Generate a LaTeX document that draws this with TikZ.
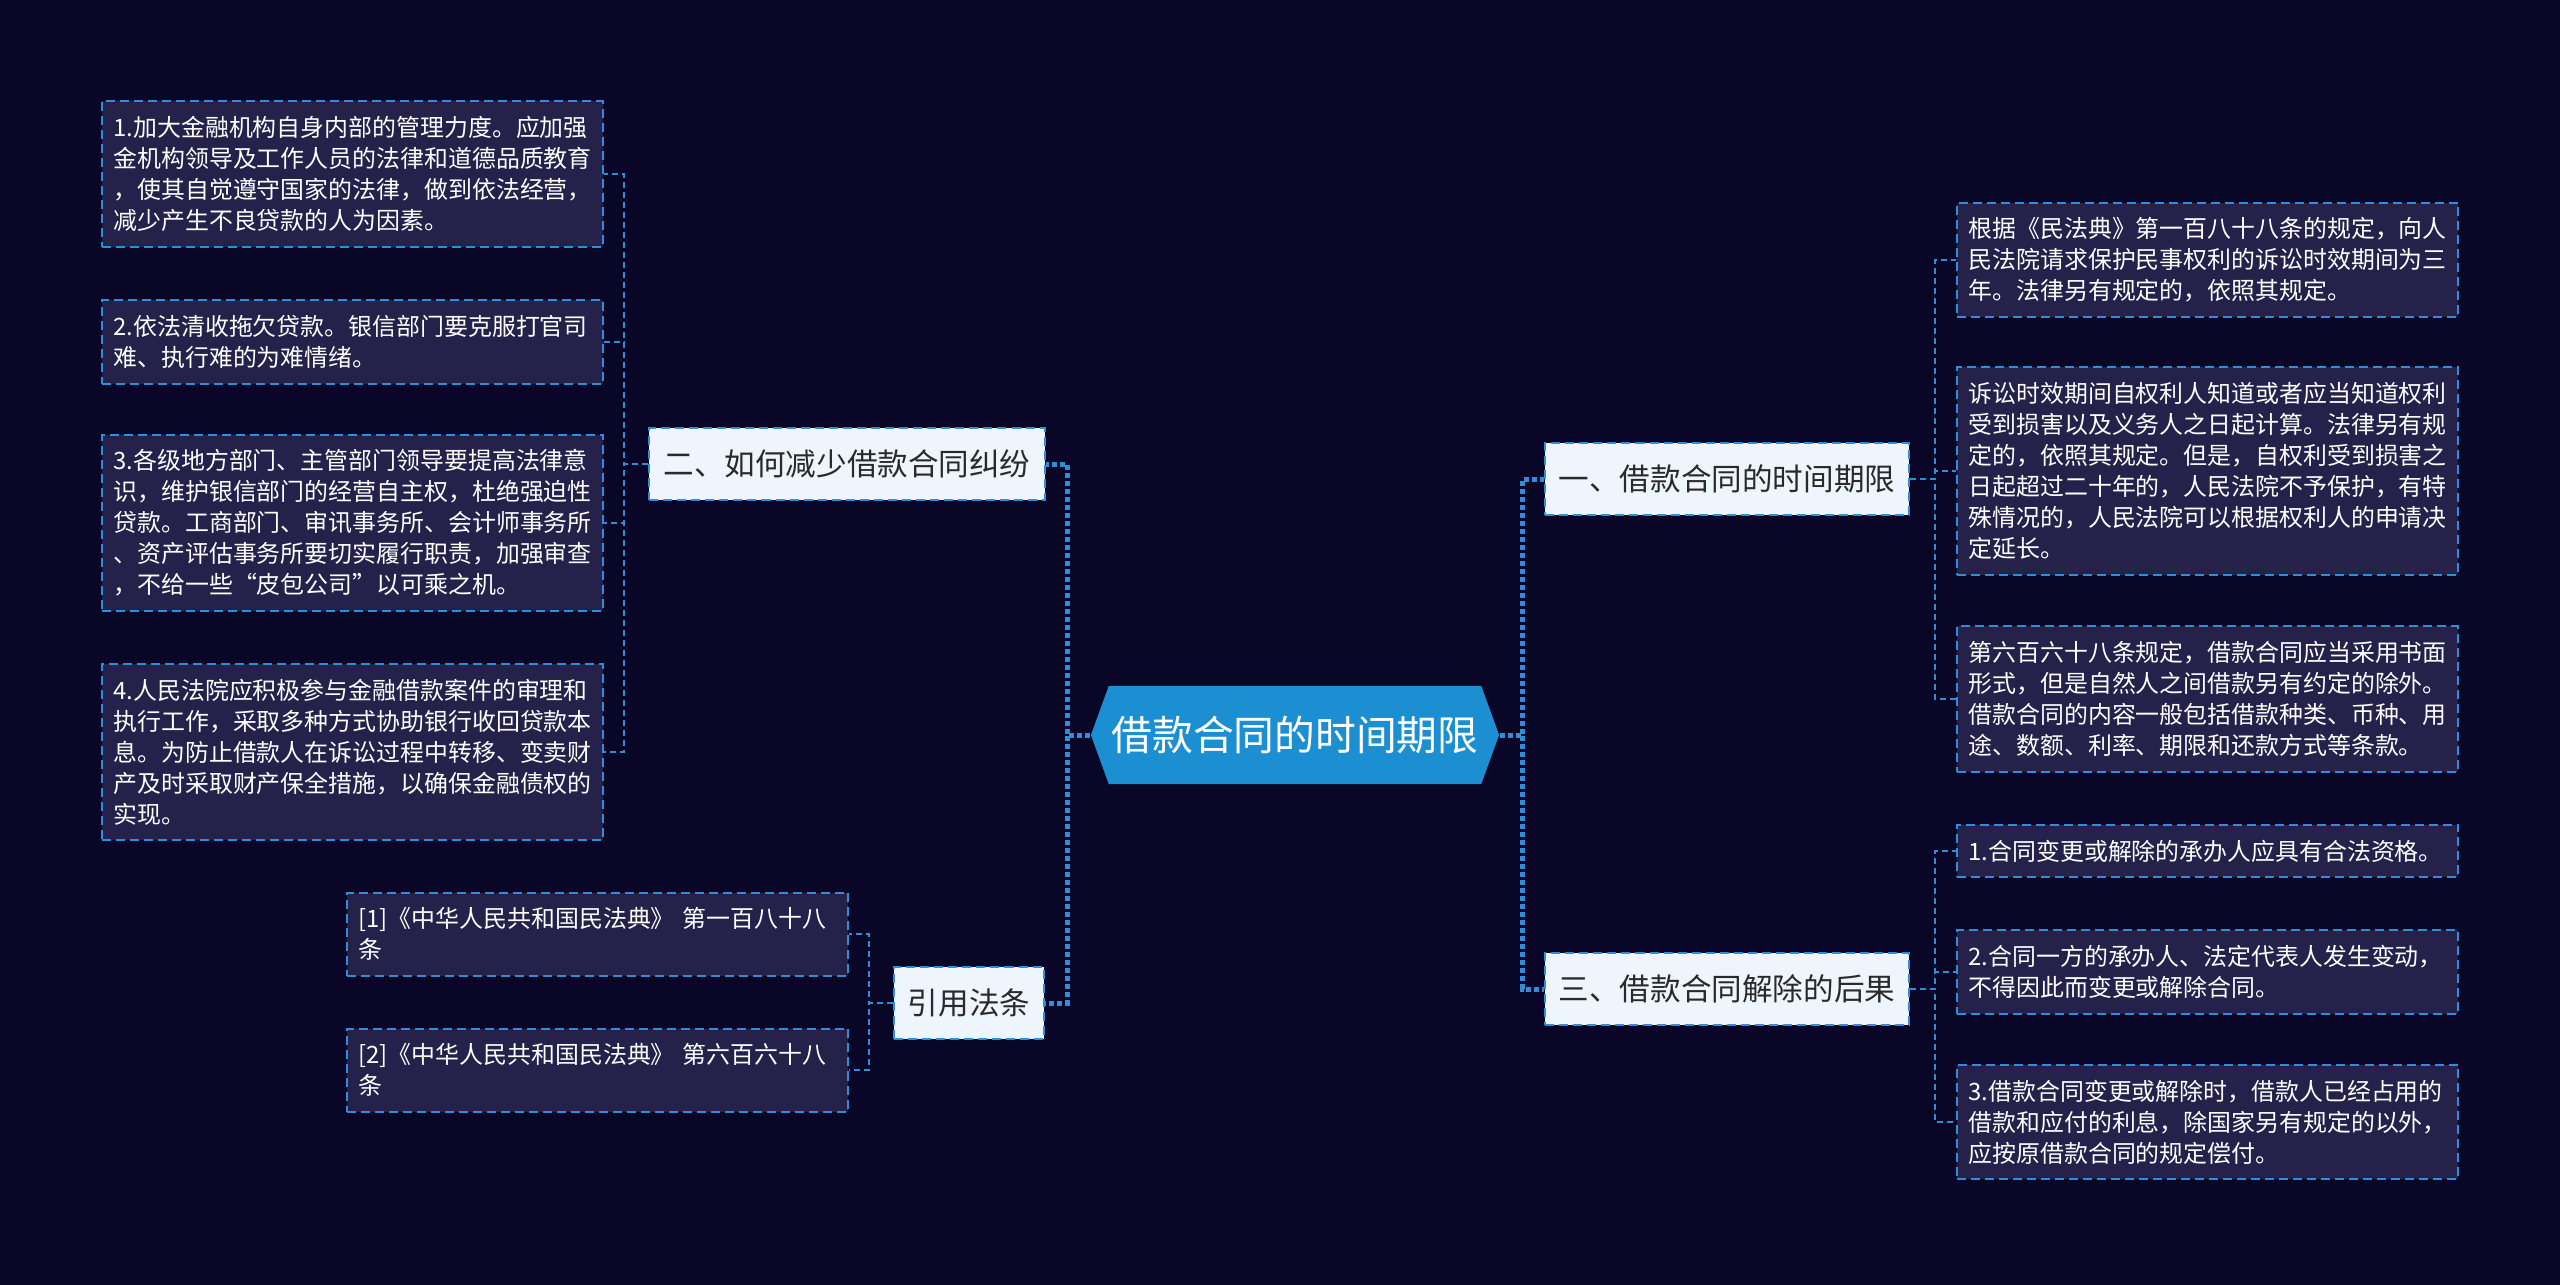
\documentclass[tikz,border=0pt]{standalone}
\usepackage{fontspec}
\setmainfont{Noto Sans CJK SC}
\usetikzlibrary{shapes.symbols}
\definecolor{bgnavy}{HTML}{0A0628}
\definecolor{leaffill}{HTML}{25214A}
\definecolor{linkblue}{HTML}{2E8FD8}
\definecolor{topicfill}{HTML}{EEF5FC}
\definecolor{rootfill}{HTML}{1C8FD3}
\definecolor{ink}{HTML}{2A2A2A}
\tikzset{
  root/.style={signal,signal to=west and east,signal pointer angle=140,fill=rootfill,draw=none,text=white,font=\fontsize{11.6}{14}\selectfont,minimum width=4.08cm,minimum height=0.98cm,inner sep=0pt},
  topic/.style={draw=linkblue,dash pattern=on 0.09cm off 0.05cm,line width=0.02cm,fill=topicfill,text=ink,font=\fontsize{8.7}{10}\selectfont,minimum height=0.71cm,inner xsep=0.14cm,inner ysep=0pt},
  leaf/.style={draw=linkblue,dash pattern=on 0.09cm off 0.05cm,line width=0.02cm,fill=leaffill,text=white,font=\fontsize{6.8}{8.8}\selectfont,text width=4.78cm,align=left,inner xsep=0.115cm,inner ysep=0.15cm,anchor=west},
  link/.style={draw=linkblue,line width=0.02cm,dash pattern=on 0.06cm off 0.04cm},
  trunk/.style={link,line width=0.05cm,dash pattern=on 0.05cm off 0.03cm},
}

\begin{document}
\begin{tikzpicture}[x=0.01cm,y=-0.01cm]
  \fill[bgnavy] (0,0) rectangle (2560,1285);
  \useasboundingbox (0,0) rectangle (2560,1285);

  \node[root] (root) at (1295,735) {借款合同的时间期限};
  \node[topic] (t2) at (847,464) {二、如何减少借款合同纠纷};
  \node[topic] (tref) at (969,1003) {引用法条};
  \node[topic] (t1) at (1727,479) {一、借款合同的时间期限};
  \node[topic] (t3) at (1727,989) {三、借款合同解除的后果};

  \node[leaf] (l1) at (101,174) {1.加大金融机构自身内部的管理力度。应加强\\金机构领导及工作人员的法律和道德品质教育\\，使其自觉遵守国家的法律，做到依法经营，\\减少产生不良贷款的人为因素。};
  \node[leaf] (l2) at (101,342) {2.依法清收拖欠贷款。银信部门要克服打官司\\难、执行难的为难情绪。};
  \node[leaf] (l3) at (101,523) {3.各级地方部门、主管部门领导要提高法律意\\识，维护银信部门的经营自主权，杜绝强迫性\\贷款。工商部门、审讯事务所、会计师事务所\\、资产评估事务所要切实履行职责，加强审查\\，不给一些“皮包公司”以可乘之机。};
  \node[leaf] (l4) at (101,752) {4.人民法院应积极参与金融借款案件的审理和\\执行工作，采取多种方式协助银行收回贷款本\\息。为防止借款人在诉讼过程中转移、变卖财\\产及时采取财产保全措施，以确保金融债权的\\实现。};
  \node[leaf] (ref1) at (346,934) {[1]《中华人民共和国民法典》 第一百八十八\\条};
  \node[leaf] (ref2) at (346,1070) {[2]《中华人民共和国民法典》 第六百六十八\\条};

  \node[leaf] (r1) at (1956,260) {根据《民法典》第一百八十八条的规定，向人\\民法院请求保护民事权利的诉讼时效期间为三\\年。法律另有规定的，依照其规定。};
  \node[leaf] (r2) at (1956,471) {诉讼时效期间自权利人知道或者应当知道权利\\受到损害以及义务人之日起计算。法律另有规\\定的，依照其规定。但是，自权利受到损害之\\日起超过二十年的，人民法院不予保护，有特\\殊情况的，人民法院可以根据权利人的申请决\\定延长。};
  \node[leaf] (r3) at (1956,699) {第六百六十八条规定，借款合同应当采用书面\\形式，但是自然人之间借款另有约定的除外。\\借款合同的内容一般包括借款种类、币种、用\\途、数额、利率、期限和还款方式等条款。};
  \node[leaf] (r4) at (1956,851) {1.合同变更或解除的承办人应具有合法资格。};
  \node[leaf] (r5) at (1956,972) {2.合同一方的承办人、法定代表人发生变动，\\不得因此而变更或解除合同。};
  \node[leaf] (r6) at (1956,1122) {3.借款合同变更或解除时，借款人已经占用的\\借款和应付的利息，除国家另有规定的以外，\\应按原借款合同的规定偿付。};

  \draw[trunk] (root.west) -- ++(-23,0) |- (t2.east);
  \draw[trunk] (root.west) -- ++(-23,0) |- (tref.east);
  \draw[trunk] (root.east) -- ++(23,0) |- (t1.west);
  \draw[trunk] (root.east) -- ++(23,0) |- (t3.west);

  \foreach \l in {l1,l2,l3,l4}
    \draw[link] (t2.west) -- ++(-24,0) |- (\l.east);
  \foreach \l in {ref1,ref2}
    \draw[link] (tref.west) -- ++(-24,0) |- (\l.east);
  \foreach \l in {r1,r2,r3}
    \draw[link] (t1.east) -- ++(25,0) |- (\l.west);
  \foreach \l in {r4,r5,r6}
    \draw[link] (t3.east) -- ++(25,0) |- (\l.west);
\end{tikzpicture}
\end{document}
